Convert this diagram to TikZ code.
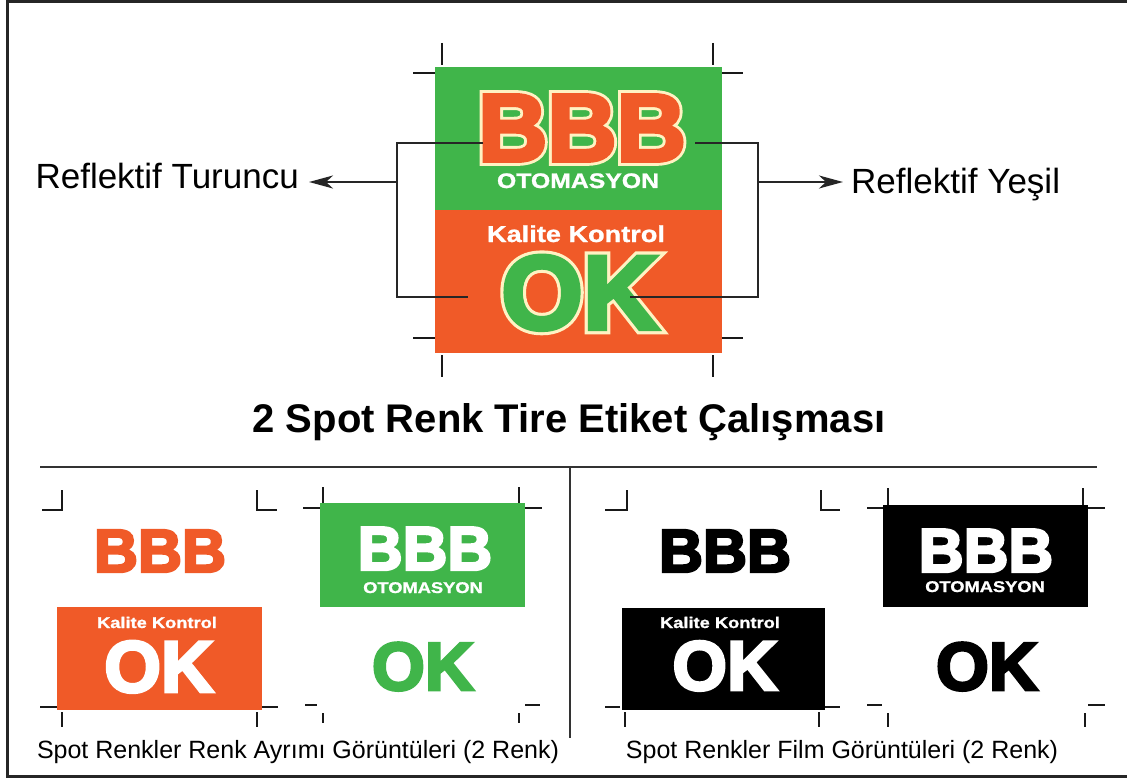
\documentclass[tikz,border=0pt]{standalone}
\usepackage{fontspec}
\setmainfont{Liberation Sans}
\newfontfamily\heavyfont[FakeBold=4]{Liberation Sans Bold}
\newfontfamily\outlinefont[FakeBold=10]{Liberation Sans Bold}
\newfontfamily\widefont[FakeStretch=1.18,FakeBold=1.2]{Liberation Sans Bold}
\usetikzlibrary{arrows.meta}
\definecolor{orng}{RGB}{240,90,40}
\definecolor{grn}{RGB}{64,181,74}
\definecolor{cream}{RGB}{255,242,195}
\newcommand\fs[1]{\fontsize{#1}{#1}\selectfont}
\begin{document}
\begin{tikzpicture}[x=1pt,y=-1pt,
  txt/.style={inner sep=0pt, anchor=base},
  crop/.style={line width=2.2pt, black!90},
  lead/.style={line width=2pt, black!85},
  rulebar/.style={line width=2.2pt, black!80},
  arr/.style={lead, -{Stealth[length=24pt,width=13pt,inset=7pt]}},
]
\useasboundingbox (0,0) rectangle (1127,778);
\fill[white] (0,0) rectangle (1127,778);
\draw[line width=3.5pt, black!85] (1127,1.5) -- (7.5,1.5) -- (7.5,776.5) -- (1127,776.5);

% ---------- main label ----------
\fill[grn] (435,67) rectangle (722,210);
\fill[orng] (435,210) rectangle (722,353);
\draw[crop] (442,43) -- (442,65) (713,43) -- (713,65)
            (442,355) -- (442,377) (713,355) -- (713,377)
            (413,73) -- (435,73) (722,73) -- (743,73)
            (413,338) -- (435,338) (722,338) -- (743,338);
\node[txt, text=cream, font=\outlinefont\fs{96}] at (582,161) {BBB};
\node[txt, text=orng, font=\heavyfont\fs{96}] (bbb) at (582,161) {BBB};
\node[txt, text=white, font=\widefont\fs{21}] (oto) at (578,188) {OTOMASYON};
\node[txt, text=white, font=\widefont\fs{23}] (kk) at (576,242) {Kalite Kontrol};
\node[txt, text=cream, font=\outlinefont\fs{105}] at (580,329) {OK};
\node[txt, text=grn, font=\heavyfont\fs{105}] (ok) at (580,329) {OK};

\coordinate (bl) at (483,143);
\coordinate (ol) at (468,297);
\coordinate (br) at (695,143);
\coordinate (or) at (630,297);
\coordinate (lj) at (397,182);
\coordinate (rj) at (758,182);
\draw[lead] (bl) -- (397,143) -- (397,297) -- (ol);
\draw[lead] (br) -- (758,143) -- (758,297) -- (or);

\node[txt, anchor=base east, font=\fs{35}] (lt) at (299,189) {Reflektif Turuncu};
\node[txt, anchor=base west, font=\fs{35}] (rt) at (851,194) {Reflektif Yeşil};
\draw[arr] (lj) -- ([xshift=10pt]lt.east |- lj);
\draw[arr] (rj) -- ([xshift=-8pt]rt.west |- rj);

% ---------- title ----------
\node[txt, font=\bfseries\fs{40}] (title) at (569,432) {2 Spot Renk Tire Etiket Çalışması};
\draw[rulebar] (40,467) -- (1097,467);
\draw[rulebar] (570,467) -- (570,738);

% ---------- panel A1 : orange separation ----------
\draw[crop] (42,510) -- (62,510) -- (62,490)  (257,490) -- (257,510) -- (277,510)
            (40,707) -- (57,707) (62,712) -- (62,727)
            (262,707) -- (278,707) (257,712) -- (257,727);
\node[txt, text=orng, font=\heavyfont\fs{61}] (a1b) at (160,572) {BBB};
\fill[orng] (57,607) rectangle (262,710);
\node[txt, text=white, font=\widefont\fs{15.5}] (a1k) at (157,628) {Kalite Kontrol};
\node[txt, text=white, font=\heavyfont\fs{73}] (a1o) at (159,692) {OK};

% ---------- panel A2 : green separation ----------
\draw[crop] (323,487) -- (323,503) (519,487) -- (519,503)
            (303,508) -- (320,508) (525,508) -- (542,508)
            (305,705) -- (317,705) (525,705) -- (540,705)
            (323,713) -- (323,723) (519,713) -- (519,723);
\fill[grn] (320,503) rectangle (525,607);
\node[txt, text=white, font=\heavyfont\fs{62}] (a2b) at (425,570) {BBB};
\node[txt, text=white, font=\widefont\fs{15.5}] (a2o) at (423,593) {OTOMASYON};
\node[txt, text=grn, font=\heavyfont\fs{68}] (a2k) at (423,690) {OK};

\node[txt, font=\fs{25}] (capA) at (298,758) {Spot Renkler Renk Ayrımı Görüntüleri (2 Renk)};

% ---------- panel B1 : film 1 ----------
\draw[crop] (605,510) -- (627,510) -- (627,490)  (821,490) -- (821,510) -- (840,510)
            (605,707) -- (620,707) (625,712) -- (625,727)
            (825,707) -- (840,707) (819,712) -- (819,727);
\node[txt, text=black, font=\heavyfont\fs{61}] (b1b) at (725,572) {BBB};
\fill[black] (622,608) rectangle (825,710);
\node[txt, text=white, font=\widefont\fs{15.5}] (b1k) at (720,628) {Kalite Kontrol};
\node[txt, text=white, font=\heavyfont\fs{70}] (b1o) at (725,690) {OK};

% ---------- panel B2 : film 2 ----------
\draw[crop] (888,488) -- (888,505) (1083,488) -- (1083,505)
            (867,508) -- (883,508) (1088,508) -- (1105,508)
            (867,705) -- (882,705) (1088,705) -- (1105,705)
            (888,713) -- (888,727) (1085,713) -- (1085,727);
\fill[black] (883,505) rectangle (1088,607);
\node[txt, text=white, font=\heavyfont\fs{62}] (b2b) at (986,572) {BBB};
\node[txt, text=white, font=\widefont\fs{15.5}] (b2o) at (985,592) {OTOMASYON};
\node[txt, text=black, font=\heavyfont\fs{68}] (b2k) at (987,690) {OK};

\node[txt, font=\fs{25}] (capB) at (842,758) {Spot Renkler Film Görüntüleri (2 Renk)};
\end{tikzpicture}
\end{document}
